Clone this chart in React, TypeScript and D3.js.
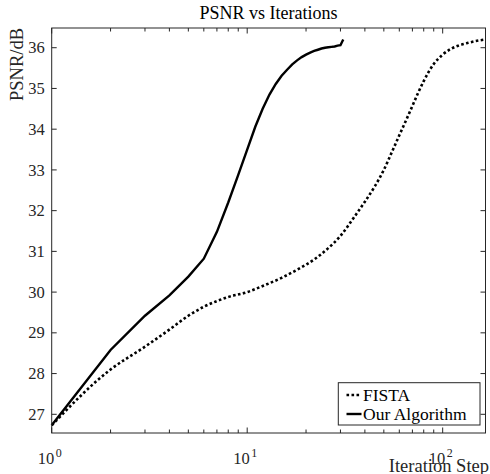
import * as d3 from "d3";

const ourIter = [
  1, 2, 3, 4, 5, 6, 7, 8, 9, 10, 11, 12, 13, 14, 15, 16, 17, 18, 19, 20, 21, 22,
  23, 24, 25, 26, 27, 28, 29, 30, 31,
];
const ourPsnr = [
  26.73, 28.58, 29.42, 29.92, 30.38, 30.82, 31.48, 32.2, 32.88, 33.5, 34.06,
  34.5, 34.85, 35.11, 35.31, 35.46, 35.59, 35.69, 35.77, 35.83, 35.88, 35.92,
  35.95, 35.98, 36.0, 36.01, 36.02, 36.03, 36.05, 36.06, 36.2,
];

const fistaIter = [
  1, 2, 3, 4, 5, 6, 7, 8, 10, 12, 15, 18, 22, 26, 30, 35, 40, 45, 50, 55, 60,
  65, 70, 75, 80, 90, 100, 110, 120, 135, 150, 165,
];
const fistaPsnr = [
  26.73, 28.1, 28.66, 29.08, 29.42, 29.64, 29.78, 29.88, 30.0, 30.15, 30.35,
  30.55, 30.8, 31.08, 31.38, 31.82, 32.22, 32.6, 33.0, 33.44, 33.85, 34.22,
  34.57, 34.9, 35.18, 35.6, 35.83, 35.97, 36.05, 36.12, 36.17, 36.2,
];

const yTicks = [27, 28, 29, 30, 31, 32, 33, 34, 35, 36];
const xMajor = [1, 10, 100];
const xTickExp = ["0", "1", "2"];

const W = 490;
const H = 474;
const left = 51.7;
const right = 485.5;
const top = 28;
const bottom = 433;
const AX = "#262626";
const FONT = "'Liberation Serif', 'Times New Roman', serif";

export default function App() {
  const x = d3.scaleLog().domain([1, 165.6]).range([left, right]);
  const y = d3.scaleLinear().domain([26.541, 36.484]).range([bottom, top]);

  const ourPts = ourIter.map((n, i) => [n, ourPsnr[i]] as [number, number]);
  const fistaPts = fistaIter.map((n, i) => [n, fistaPsnr[i]] as [number, number]);

  const xMinor = x.ticks().filter((t) => !xMajor.includes(t) && t <= 165.6);

  // our algorithm: plain polyline (kinks visible in the original)
  const ourPath = d3
    .line<[number, number]>()
    .x((d) => x(d[0]))
    .y((d) => y(d[1]))(ourPts);
  // fista is dense in the original, so smooth between read-off points
  const fistaPath = d3
    .line<[number, number]>()
    .x((d) => x(d[0]))
    .y((d) => y(d[1]))
    .curve(d3.curveMonotoneX)(fistaPts);

  return (
    <svg
      width={W}
      height={H}
      style={{ position: "absolute", left: 0, top: 0, background: "#fff" }}
      fontFamily={FONT}
    >
      <rect x={0} y={0} width={W} height={H} fill="#fff" />
      <text x={(left + right) / 2} y={19} textAnchor="middle" fontSize={18} fill="#000">
        PSNR vs Iterations
      </text>

      <path
        d={fistaPath || undefined}
        fill="none"
        stroke="#000"
        strokeWidth={2.6}
        strokeDasharray="2.6 2.4"
      />
      <path d={ourPath || undefined} fill="none" stroke="#000" strokeWidth={2.4} />

      <rect
        x={left}
        y={top}
        width={right - left}
        height={bottom - top}
        fill="none"
        stroke={AX}
        strokeWidth={1}
      />

      {yTicks.map((t) => (
        <g key={"y" + t}>
          <line x1={left} x2={left + 5} y1={y(t)} y2={y(t)} stroke={AX} />
          <line x1={right} x2={right - 5} y1={y(t)} y2={y(t)} stroke={AX} />
          <text
            x={left - 7}
            y={y(t)}
            dy="0.34em"
            textAnchor="end"
            fontSize={16.5}
            fill={AX}
          >
            {t}
          </text>
        </g>
      ))}

      {xMinor.map((t) => (
        <g key={"xm" + t}>
          <line x1={x(t)} x2={x(t)} y1={bottom} y2={bottom - 3.5} stroke={AX} />
          <line x1={x(t)} x2={x(t)} y1={top} y2={top + 3.5} stroke={AX} />
        </g>
      ))}
      {xMajor.map((t, i) => (
        <g key={"xM" + t}>
          <line x1={x(t)} x2={x(t)} y1={bottom} y2={bottom - 5.5} stroke={AX} />
          <line x1={x(t)} x2={x(t)} y1={top} y2={top + 5.5} stroke={AX} />
          <text x={x(t) - 2} y={464} textAnchor="middle" fontSize={16.5} fill={AX}>
            10
            <tspan dx={1.5} dy={-7} fontSize={12}>
              {xTickExp[i]}
            </tspan>
          </text>
        </g>
      ))}

      <text x={489} y={472} textAnchor="end" fontSize={18.5} fill={AX}>
        Iteration Step
      </text>
      <text
        transform={`translate(23, ${top}) rotate(-90)`}
        textAnchor="end"
        fontSize={18.5}
        fill={AX}
      >
        PSNR/dB
      </text>

      <g>
        <rect x={338.3} y={382.7} width={141.7} height={42.3} fill="#fff" stroke={AX} />
        <line
          x1={346.5}
          x2={361.5}
          y1={395}
          y2={395}
          stroke="#000"
          strokeWidth={2.6}
          strokeDasharray="2.6 2.4"
        />
        <text x={363} y={395} dy="0.34em" fontSize={17.5} fill="#000">
          FISTA
        </text>
        <line x1={346.5} x2={361.5} y1={414} y2={414} stroke="#000" strokeWidth={2.4} />
        <text x={363} y={414} dy="0.34em" fontSize={17.5} fill="#000">
          Our Algorithm
        </text>
      </g>
    </svg>
  );
}
